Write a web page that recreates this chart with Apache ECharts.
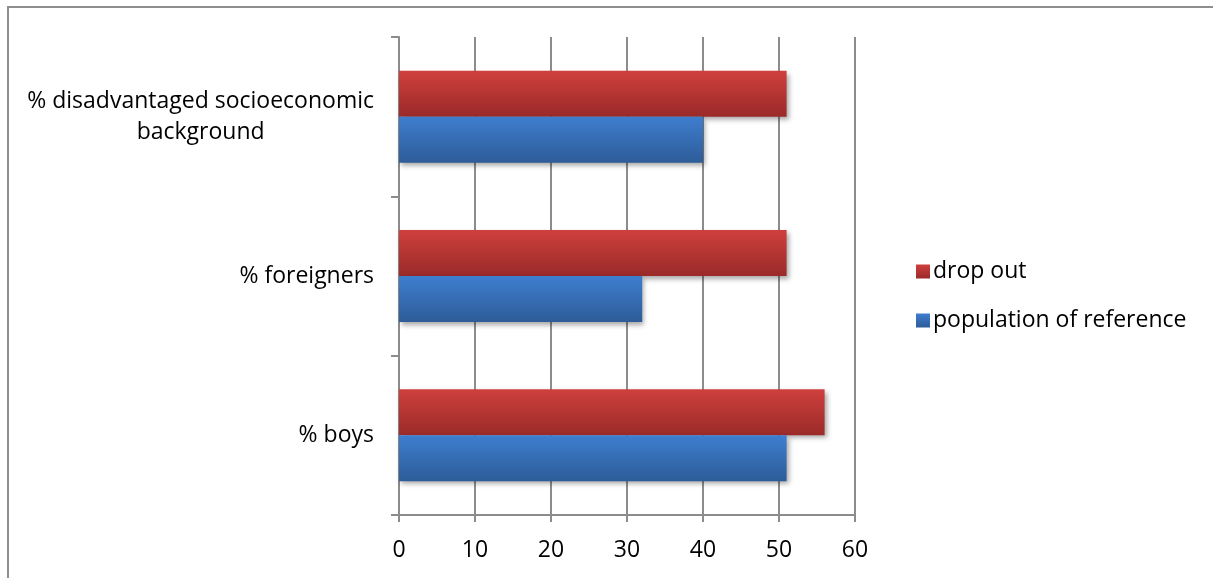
<!DOCTYPE html>
<html>
<head>
<meta charset="utf-8">
<script src="https://cdn.jsdelivr.net/npm/echarts@6/dist/echarts.min.js"></script>
<style>
  html, body { margin: 0; padding: 0; background: #fff; }
  #frame {
    position: absolute; left: 7px; top: 6px; width: 1300px; height: 700px;
    border: 2px solid #8e8e8e; box-sizing: border-box;
  }
  #chart { position: absolute; left: 0; top: 0; width: 1213px; height: 578px; }
</style>
</head>
<body>
<div id="frame"></div>
<div id="chart"></div>
<script>
const categories = ['% boys', '% foreigners', '% disadvantaged socioeconomic\nbackground']
const dropOut = [56, 51, 51]
const population = [51, 32, 40]
const xTicks = [0, 60, 10] // min, max, interval

const font = '"Open Sans", "Noto Sans", sans-serif'
const gridColor = '#8c8c8c'

function vGrad(top, bottom) {
  return new echarts.graphic.LinearGradient(0, 0, 0, 1, [
    { offset: 0, color: top },
    { offset: 1, color: bottom }
  ])
}

const redFill = vGrad('#cf403d', '#9a2a29')
const blueFill = vGrad('#3e7ecf', '#2d5c98')

const barShadow = {
  shadowColor: 'rgba(0,0,0,0.35)',
  shadowBlur: 5,
  shadowOffsetX: 2,
  shadowOffsetY: 3
}

const chart = echarts.init(document.getElementById('chart'))

const option = {
  animation: false,
  textStyle: { fontFamily: font },
  grid: { left: 399, right: 358, top: 37, bottom: 63 },
  legend: {
    orient: 'vertical',
    left: 911,
    top: 255,
    itemGap: 26,
    itemWidth: 14,
    itemHeight: 14,
    icon: 'rect',
    data: ['drop out', 'population of reference'],
    textStyle: { fontSize: 23, color: '#000', fontFamily: font, padding: [0, 0, 0, -2] }
  },
  xAxis: {
    type: 'value',
    min: xTicks[0],
    max: xTicks[1],
    interval: xTicks[2],
    axisLine: { show: true, lineStyle: { color: gridColor, width: 2 } },
    axisTick: { show: true, length: 7, lineStyle: { color: gridColor, width: 2 } },
    splitLine: { show: true, lineStyle: { color: gridColor, width: 2 } },
    axisLabel: { fontSize: 23, color: '#000', margin: 24 }
  },
  yAxis: {
    type: 'category',
    data: categories,
    axisLine: { show: true, lineStyle: { color: gridColor, width: 2 } },
    axisTick: { show: true, length: 8, lineStyle: { color: gridColor, width: 2 } },
    axisLabel: {
      fontSize: 23,
      color: '#000',
      margin: 25,
      lineHeight: 31,
      formatter: (v) => v.split('\n').map((s) => '{c|' + s + '}').join('\n'),
      rich: { c: { align: 'center', fontSize: 23, color: '#000', lineHeight: 31 } }
    }
  },
  series: [
    {
      name: 'drop out',
      type: 'bar',
      data: dropOut,
      barWidth: 46,
      barGap: '0%',
      itemStyle: Object.assign({ color: redFill }, barShadow)
    },
    {
      name: 'population of reference',
      type: 'bar',
      data: population,
      barWidth: 46,
      barGap: '0%',
      itemStyle: Object.assign({ color: blueFill }, barShadow)
    }
  ]
}

chart.setOption(option)
</script>
</body>
</html>
